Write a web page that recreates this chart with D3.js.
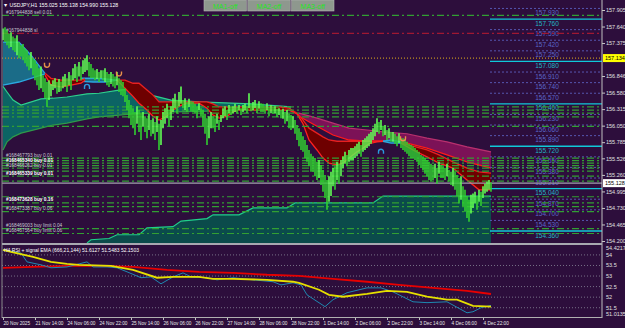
<!DOCTYPE html>
<html>
<head>
<meta charset="utf-8">
<script src="https://cdn.jsdelivr.net/npm/d3@7"></script>
<style>
body { margin: 0; background: #2d0e3c; }
svg { display: block; font-family: "Liberation Sans", Arial, sans-serif; }
</style>
</head>
<body>
<div class="chart"></div>
<script>
// USDJPY H1 bars (one value per bar)
const highs = [
  157.61,157.63,157.58,157.53,157.55, 157.48,157.45,157.50,157.39,157.34,
  157.36,157.29,157.26,157.18,157.23, 157.13,157.10,157.04,156.97,157.00,
  156.86,156.81,156.75,156.78,156.72, 156.78,156.81,156.75,156.80,156.76,
  156.84,156.88,156.81,156.91,156.86, 156.97,157.04,157.00,157.07,157.00,
  157.10,157.13,157.18,157.07,157.04, 156.97,156.94,156.96,156.91,156.94,
  156.94,156.97,156.91,156.88,156.91, 156.88,156.84,156.91,156.81,156.78,
  156.75,156.65,156.54,156.46,156.38, 156.33,156.27,156.36,156.30,156.24,
  156.27,156.20,156.17,156.24,156.14, 156.17,156.11,156.20,156.08,156.14,
  156.27,156.33,156.40,156.30,156.36, 156.49,156.56,156.46,156.59,156.68,
  156.46,156.49,156.43,156.48,156.44, 156.43,156.40,156.36,156.41,156.33,
  156.30,156.24,156.17,156.20,156.27, 156.20,156.17,156.24,156.14,156.22,
  156.33,156.36,156.30,156.38,156.35, 156.36,156.40,156.35,156.38,156.33,
  156.38,156.40,156.36,156.57,156.40, 156.43,156.46,156.40,156.44,156.41,
  156.40,156.36,156.41,156.35,156.38, 156.35,156.36,156.32,156.33,156.30,
  156.32,156.27,156.30,156.24,156.22, 156.20,156.14,156.06,156.01,155.95,
  155.88,155.82,155.74,155.66,155.60, 155.56,155.53,155.47,155.50,155.42,
  155.34,155.26,155.18,155.24,155.31, 155.37,155.40,155.47,155.44,155.50,
  155.56,155.63,155.58,155.66,155.69, 155.69,155.72,155.76,155.79,155.74,
  155.82,155.85,155.88,155.92,155.95, 156.01,156.08,156.17,156.11,156.14,
  156.04,156.06,155.98,156.01,155.95, 155.95,155.92,155.88,155.93,155.85,
  155.85,155.82,155.79,155.76,155.74, 155.72,155.69,155.66,155.63,155.58,
  155.56,155.53,155.50,155.47,155.44, 155.40,155.44,155.37,155.47,155.42,
  155.40,155.37,155.44,155.34,155.31, 155.37,155.31,155.26,155.21,155.24,
  155.08,155.02,154.92,154.86,154.94, 154.96,154.99,154.92,155.02,154.99,
  155.08,155.12,155.15,155.18,155.14
]
const lows = [
  157.42,157.39,157.34,157.29,157.31, 157.26,157.23,157.18,157.13,157.16,
  157.10,157.05,157.00,156.94,156.97, 156.86,156.78,156.70,156.62,156.65,
  156.59,156.49,156.35,156.46,156.52, 156.62,156.65,156.56,156.59,156.60,
  156.65,156.68,156.59,156.70,156.62, 156.78,156.81,156.75,156.84,156.78,
  156.88,156.91,156.94,156.84,156.81, 156.81,156.78,156.80,156.75,156.81,
  156.78,156.75,156.70,156.67,156.72, 156.68,156.65,156.70,156.59,156.54,
  156.52,156.43,156.30,156.17,156.06, 156.01,155.90,156.08,155.95,155.82,
  156.04,155.95,155.85,155.98,155.88, 155.92,155.82,155.95,155.66,155.74,
  156.01,156.08,156.17,156.04,156.14, 156.27,156.33,156.24,156.36,156.40,
  156.33,156.30,156.27,156.35,156.28, 156.27,156.24,156.17,156.30,156.20,
  156.04,155.92,155.74,155.85,156.01, 156.01,155.95,156.08,155.98,156.11,
  156.17,156.20,156.14,156.25,156.22, 156.25,156.27,156.24,156.30,156.22,
  156.27,156.30,156.25,156.33,156.28, 156.30,156.33,156.25,156.32,156.27,
  156.27,156.24,156.30,156.20,156.25, 156.24,156.25,156.19,156.22,156.17,
  156.16,156.08,156.12,156.01,155.98, 156.01,155.92,155.82,155.72,155.66,
  155.63,155.53,155.47,155.40,155.31, 155.31,155.24,155.18,155.21,155.10,
  154.99,154.89,154.70,154.83,154.92, 155.08,155.02,155.18,155.12,155.24,
  155.37,155.44,155.40,155.47,155.50, 155.50,155.53,155.56,155.60,155.55,
  155.63,155.66,155.69,155.72,155.76, 155.82,155.88,155.95,155.92,155.98,
  155.88,155.90,155.82,155.85,155.79, 155.79,155.76,155.72,155.77,155.69,
  155.66,155.63,155.60,155.56,155.53, 155.53,155.50,155.47,155.42,155.37,
  155.34,155.28,155.24,155.18,155.15, 155.18,155.21,155.12,155.28,155.21,
  155.21,155.18,155.24,155.15,155.10, 155.08,155.02,154.92,154.80,154.86,
  154.76,154.67,154.57,154.51,154.64, 154.73,154.80,154.70,154.83,154.76,
  154.89,154.96,154.99,155.02,154.99
]

const timeIdx = [0,16,32,48,64,80,96,112,128,144,160,176,192,208,224,240]
const timeLabels = ["20 Nov 2025","21 Nov 14:00","24 Nov 06:00","24 Nov 22:00","25 Nov 14:00",
  "26 Nov 06:00","26 Nov 22:00","27 Nov 14:00","28 Nov 06:00","28 Nov 22:00","1 Dec 14:00",
  "2 Dec 06:00","2 Dec 22:00","3 Dec 14:00","4 Dec 06:00","4 Dec 22:00"]

const priceTicks = [157.905,157.640,157.375,156.846,156.580,156.315,156.050,155.785,
  155.526,155.260,154.995,154.730,154.465,154.200]
const askMark = 157.134
const bidMark = 155.128

// price levels at the right
const levels = [158.100,157.930,157.760,157.590,157.420,157.250,157.080,156.910,156.740,
  156.570,156.400,156.230,156.060,155.890,155.720,155.550,155.380,155.210,155.040,
  154.870,154.700,154.530,154.360]
const majorLevels = [157.760,157.080,156.400,155.720,155.040,154.360]

// order lines
const sellLines = [157.82]
const stopLines = [157.53]
const buyLines = [156.35,156.30,156.25,156.19,156.04,155.53,155.49,155.45,155.41,155.37,
  155.32,155.24,155.16,154.91,154.81,154.75,154.67,154.40,154.32]
const orderLabels = [
  {text: "#167944838 sell 0.01", price: 157.82, hot: false},
  {text: "#167944838 sl", price: 157.53, hot: false},
  {text: "#168467793 buy 0.01", price: 155.53, hot: false},
  {text: "#168465340 buy 0.01", price: 155.45, hot: true},
  {text: "#168466262 buy 0.01", price: 155.37, hot: false},
  {text: "#168465339 buy 0.01", price: 155.24, hot: true},
  {text: "#168473628 buy 0.16", price: 154.81, hot: true},
  {text: "#168473387 buy 0.06", price: 154.67, hot: false},
  {text: "#168469003 buy limit 0.04", price: 154.40, hot: false},
  {text: "#168467564 buy limit 0.06", price: 154.32, hot: false}
]

// indicator clouds (bar index, top, bottom)
const bandIdx = [0,2,5,9,19,25,32,42,48,58,65,74,84,98,124,144]
const bandTop = [156.68,156.59,156.46,156.38,156.48,156.49,156.51,156.56,156.57,156.62,156.64,156.54,156.46,156.43,156.40,156.35]
const bandBottom = [155.66,155.79,155.87,155.93,156.01,156.06,156.09,156.16,156.19,156.22,156.24,156.25,156.27,156.28,156.30,156.33]

const floorIdx = [42,44,53,57,68,72,85,89,102,105,118,125,142,146,185,190,244]
const floorTop = [154.17,154.22,154.24,154.30,154.30,154.41,154.43,154.52,154.56,154.62,154.62,154.73,154.73,154.81,154.81,154.92,154.92]

const blueClouds = [
  {idx: [0,8,14,21], top: [157.39,157.39,157.18,156.89], bottom: [156.70,156.75,156.81,156.88]},
  {idx: [39,45,51,57], top: [156.81,156.81,156.80,156.78], bottom: [156.76,156.75,156.75,156.78]},
  {idx: [190,194,199], top: [155.80,155.82,155.79], bottom: [155.80,155.77,155.77]}
]
const redClouds = [
  {idx: [21,24,29,34,39,41], top: [156.89,156.81,156.78,156.78,156.78,156.80], bottom: [156.86,156.70,156.67,156.70,156.73,156.78]},
  {idx: [57,61,65,68,72,75,78,82,85,88,92,98,102,105,108,112,115,118,123,128,133,138,143],
   top: [156.78,156.78,156.73,156.73,156.62,156.54,156.43,156.43,156.43,156.43,156.43,156.43,156.43,156.40,156.35,156.35,156.35,156.35,156.35,156.35,156.35,156.35,156.33],
   bottom: [156.78,156.65,156.52,156.41,156.30,156.20,156.14,156.20,156.30,156.36,156.41,156.41,156.33,156.22,156.17,156.20,156.27,156.30,156.30,156.30,156.30,156.30,156.30]},
  {idx: [143,147,150,153,157,160,163,167,170,173,177,180,183,187,190],
   top: [156.33,156.25,156.14,156.01,155.93,155.87,155.82,155.80,155.80,155.80,155.80,155.80,155.80,155.80,155.80],
   bottom: [156.30,156.24,156.08,155.82,155.66,155.53,155.45,155.42,155.45,155.53,155.63,155.69,155.76,155.79,155.80]},
  {idx: [199,205,212,218,225,232,238,244],
   top: [155.77,155.72,155.66,155.58,155.47,155.37,155.31,155.29],
   bottom: [155.77,155.66,155.55,155.45,155.37,155.18,155.02,155.02]}
]
const magIdx = [148,157,165,173,182,190,202,212,222,232,244]
const magTop = [156.25,156.17,156.09,156.01,155.98,155.95,155.92,155.85,155.79,155.71,155.63]
const magBottom = [156.20,156.04,155.90,155.82,155.80,155.80,155.77,155.69,155.58,155.47,155.37]

const upArrows = [{i: 22, price: 157.02}, {i: 58, price: 156.88}, {i: 200, price: 155.84}]
const downArrows = [{i: 42, price: 156.68}, {i: 189, price: 155.64}]

// RSI window
const rsiTicks = [54, 53.5, 53, 52.5, 52, 51.5]
const rsiIdx = [0,9,12,19,24,32,42,45,52,57,62,69,74,79,85,90,94,102,107,115,125,135,139,145,149,152,161,165,172,182,189,195,205,212,222,232,235,239,244]
const rsiVals = [54.24,54.09,53.67,53.53,53.39,53.43,53.67,53.43,53.43,53.39,53.20,52.92,52.96,52.63,52.96,53.15,52.96,52.92,52.82,52.92,52.82,52.73,52.58,52.68,52.58,52.11,51.55,51.88,52.21,52.44,52.44,52.25,51.78,51.74,51.78,51.26,51.31,51.50,51.61]
const emaFastIdx = [0,4,15,24,32,38,54,65,77,85,98,105,115,132,145,148,158,163,170,182,192,202,212,222,227,235,244]
const emaFast = [54.24,54.14,53.91,53.67,53.58,53.53,53.48,53.29,52.92,52.96,52.96,52.87,52.87,52.82,52.73,52.68,52.35,52.11,52.02,52.16,52.30,52.25,52.02,51.88,51.88,51.59,51.55]
const emaSlowIdx = [0,15,32,48,65,82,98,115,132,148,165,182,198,215,232,244]
const emaSlow = [53.39,53.43,53.48,53.48,53.43,53.29,53.20,53.15,53.06,53.01,52.87,52.73,52.58,52.44,52.30,52.15]

const svg = d3.select(".chart")
  .append("svg")
    .attr("width", 625)
    .attr("height", 328)

svg.append("rect").attr("width", 625).attr("height", 328).attr("fill", "#2d0e3c")

const defs = svg.append("defs")
defs.append("clipPath").attr("id", "clipMain")
  .append("rect").attr("x", 2).attr("y", 0).attr("width", 600).attr("height", 243)
defs.append("clipPath").attr("id", "clipSub")
  .append("rect").attr("x", 2).attr("y", 245).attr("width", 600).attr("height", 72)

const x = d3.scaleLinear().domain([0, 244]).range([3, 491])
const y = d3.scaleLinear().domain([154.200, 157.905]).range([241, 10])
const yRsi = d3.scaleLinear().domain([51.0135, 54.4217]).range([318, 246])

const main = svg.append("g").attr("clip-path", "url(#clipMain)")

function zipCloud(idx, top, bottom) {
  return idx.map((d, k) => ({i: d, t: top[k], b: bottom[k]}))
}
const areaGen = d3.area().x(d => x(d.i)).y0(d => y(d.b)).y1(d => y(d.t))
const topLine = d3.line().x(d => x(d.i)).y(d => y(d.t))
const botLine = d3.line().x(d => x(d.i)).y(d => y(d.b))

// floor band at the bottom
const floorPts = floorIdx.map((d, k) => ({i: d, t: floorTop[k], b: y.invert(244)}))
main.append("path").datum(floorPts).attr("d", areaGen).attr("fill", "#0b4b4b")
main.append("path").datum(floorPts).attr("d", topLine)
  .attr("fill", "none").attr("stroke", "#1fd08a").attr("stroke-width", 1.2)

// teal band
const band = zipCloud(bandIdx, bandTop, bandBottom)
main.append("path").datum(band).attr("d", areaGen).attr("fill", "#0c6464")
main.append("path").datum(band).attr("d", topLine)
  .attr("fill", "none").attr("stroke", "#2ecf8c").attr("stroke-width", 1.2)
main.append("path").datum(band).attr("d", botLine)
  .attr("fill", "none").attr("stroke", "#2e9a4a").attr("stroke-width", 1.2)

// magenta cloud
const mag = zipCloud(magIdx, magTop, magBottom)
main.append("path").datum(mag).attr("d", areaGen).attr("fill", "#7c1257")
main.append("path").datum(mag).attr("d", topLine)
  .attr("fill", "none").attr("stroke", "#b8306e").attr("stroke-width", 1.2)
main.append("path").datum(mag).attr("d", botLine)
  .attr("fill", "none").attr("stroke", "#ff1a1a").attr("stroke-width", 1.3)

blueClouds.forEach(c => {
  const pts = zipCloud(c.idx, c.top, c.bottom)
  main.append("path").datum(pts).attr("d", areaGen).attr("fill", "#1b6c88")
  main.append("path").datum(pts).attr("d", topLine)
    .attr("fill", "none").attr("stroke", "#2aa8e0").attr("stroke-width", 1.3)
  main.append("path").datum(pts).attr("d", botLine)
    .attr("fill", "none").attr("stroke", "#2aa8e0").attr("stroke-width", 1.3)
})
redClouds.forEach(c => {
  const pts = zipCloud(c.idx, c.top, c.bottom)
  main.append("path").datum(pts).attr("d", areaGen).attr("fill", "#6e0000")
  main.append("path").datum(pts).attr("d", topLine)
    .attr("fill", "none").attr("stroke", "#e82020").attr("stroke-width", 1.3)
  main.append("path").datum(pts).attr("d", botLine)
    .attr("fill", "none").attr("stroke", "#ff2020").attr("stroke-width", 1.3)
})

// price levels on the right
main.selectAll(".lvl").data(levels).enter().append("line")
  .attr("x1", 490).attr("x2", 602)
  .attr("y1", d => y(d)).attr("y2", d => y(d))
  .attr("stroke", d => majorLevels.includes(d) ? "#10c8d8" : "#5656b0")
  .attr("stroke-width", d => majorLevels.includes(d) ? 1.3 : 1)
  .attr("stroke-dasharray", d => majorLevels.includes(d) ? null : "2,2")
main.selectAll(".lvlText").data(levels.filter(d => y(d) > 2)).enter().append("text")
  .attr("x", 547).attr("y", d => y(d) + 6.5)
  .attr("text-anchor", "middle")
  .attr("font-size", 6.5)
  .attr("fill", d => majorLevels.includes(d) ? "#22b4c4" : "#5a66c8")
  .text(d => d.toFixed(3))

// order lines
function hLines(data, color, dash) {
  main.append("g").selectAll("line").data(data).enter().append("line")
    .attr("x1", 2).attr("x2", 602)
    .attr("y1", d => y(d)).attr("y2", d => y(d))
    .attr("stroke", color).attr("stroke-width", 1.2)
    .attr("stroke-dasharray", dash)
}
hLines(buyLines, "#32a032", "7,3,2,3")
hLines(sellLines, "#32a032", "7,3,2,3")
hLines(stopLines, "#a01832", "7,3,2,3")
hLines([askMark], "#c09020", "1,2")
hLines([bidMark], "#a0a0ac", null)

main.selectAll(".ol").data(orderLabels).enter().append("text")
  .attr("x", 6).attr("y", d => y(d.price) - 1.5)
  .attr("font-size", 4.8)
  .attr("font-weight", d => d.hot ? "bold" : "normal")
  .attr("fill", d => d.hot ? "#ffffff" : "#c8c8d0")
  .text(d => d.text)

// bars
main.append("g").selectAll("line").data(highs).enter().append("line")
  .attr("x1", (d, i) => x(i)).attr("x2", (d, i) => x(i))
  .attr("y1", d => y(d))
  .attr("y2", (d, i) => y(lows[i]))
  .attr("stroke", (d, i) => (i > 0 && d + lows[i] < highs[i - 1] + lows[i - 1]) ? "#30d030" : "#60ff54")
  .attr("stroke-width", 1.6)

// arrows
main.selectAll(".up").data(upArrows).enter().append("path")
  .attr("d", d => {
    const cx = x(d.i), cy = y(d.price)
    return `M${cx - 2.5},${cy - 2.5} v2 a2.5,2.5 0 0 0 5,0 v-2`
  })
  .attr("fill", "none").attr("stroke", "#e8904a").attr("stroke-width", 1.4)
main.selectAll(".dn").data(downArrows).enter().append("path")
  .attr("d", d => {
    const cx = x(d.i), cy = y(d.price)
    return `M${cx - 2.5},${cy + 2.5} v-2 a2.5,2.5 0 0 1 5,0 v2`
  })
  .attr("fill", "none").attr("stroke", "#2a9ae0").attr("stroke-width", 1.4)

// right price axis
const yAxis = d3.axisRight(y).tickValues(priceTicks).tickSize(3).tickFormat(d3.format(".3f"))
const yg = svg.append("g").attr("transform", "translate(602,0)").call(yAxis)
yg.select(".domain").remove()
yg.selectAll("line").attr("stroke", "#c8c8c8")
yg.selectAll("text").attr("fill", "#e0e0e0").attr("font-size", 5.5).attr("x", 4)

function markBox(price, bg) {
  svg.append("rect").attr("x", 603).attr("y", y(price) - 4).attr("width", 22).attr("height", 8).attr("fill", bg)
  svg.append("text").attr("x", 605).attr("y", y(price) + 2).attr("font-size", 5.5)
    .attr("fill", "#000").text(price.toFixed(3))
}
markBox(askMark, "#ffff00")
markBox(bidMark, "#ffffff")

// header
svg.append("text").attr("x", 3).attr("y", 7).attr("font-size", 5.2).attr("fill", "#ffffff")
  .text("\u25BC USDJPY,H1  155.025 155.138 154.990 155.128")
const buttons = ["MA1-off", "MA2-off", "MA3-off"]
const btnX = d3.scaleBand().domain(buttons).range([204, 334]).paddingInner(0.03)
buttons.forEach(b => {
  svg.append("rect").attr("x", btnX(b)).attr("y", 0).attr("width", btnX.bandwidth()).attr("height", 11)
    .attr("fill", "#8e988e").attr("stroke", "#b4b4b4").attr("stroke-width", 0.6)
  svg.append("text").attr("x", btnX(b) + btnX.bandwidth() / 2).attr("y", 8.5)
    .attr("text-anchor", "middle").attr("font-size", 7).attr("fill", "#1ee61e").text(b)
})

// RSI window
const sub = svg.append("g").attr("clip-path", "url(#clipSub)")
sub.selectAll("line").data(rsiTicks).enter().append("line")
  .attr("x1", 2).attr("x2", 602)
  .attr("y1", d => yRsi(d)).attr("y2", d => yRsi(d))
  .attr("stroke", "#8a8a9a").attr("stroke-width", 0.8).attr("stroke-dasharray", "1,2")

function rsiLine(idx, vals, color, w) {
  sub.append("path").datum(idx.map((d, k) => [d, vals[k]]))
    .attr("d", d3.line().x(d => x(d[0])).y(d => yRsi(d[1])))
    .attr("fill", "none").attr("stroke", color).attr("stroke-width", w)
}
rsiLine(emaSlowIdx, emaSlow, "#e80000", 1.8)
rsiLine(rsiIdx, rsiVals, "#1e88b0", 1)
rsiLine(emaFastIdx, emaFast, "#e6e000", 1.8)

svg.append("text").attr("x", 4).attr("y", 252).attr("font-size", 5).attr("fill", "#ffffff")
  .text("H4 RSI + signal EMA (666,21,144) 51.6127 51.5483 52.1503")

const rsiLabels = [54.4217].concat(rsiTicks, [51.0135])
svg.selectAll(".rl").data(rsiLabels).enter().append("text")
  .attr("x", 606)
  .attr("y", d => Math.min(Math.max(yRsi(d) + 2, 250), 316))
  .attr("font-size", 5.5).attr("fill", "#e0e0e0")
  .text(d => d)

// frames
svg.append("line").attr("x1", 602).attr("x2", 602).attr("y1", 0).attr("y2", 318).attr("stroke", "#c0c0c0")
svg.append("line").attr("x1", 2).attr("x2", 2).attr("y1", 0).attr("y2", 318).attr("stroke", "#8a8a8a")
svg.append("rect").attr("x", 2).attr("y", 243).attr("width", 600).attr("height", 2).attr("fill", "#a8a8b0")
svg.append("line").attr("x1", 2).attr("x2", 602).attr("y1", 317.5).attr("y2", 317.5).attr("stroke", "#b0b0b0")

// time axis
const xAxis = d3.axisBottom(x).tickValues(timeIdx).tickSize(2).tickFormat((d, k) => timeLabels[k])
const xg = svg.append("g").attr("transform", "translate(0,318)").call(xAxis)
xg.select(".domain").remove()
xg.selectAll("line").attr("stroke", "#c0c0c0")
xg.selectAll("text").attr("fill", "#e8e8e8").attr("font-size", 4.7)
  .attr("text-anchor", "start").attr("y", 4).attr("dy", "0.71em")
</script>
</body>
</html>
